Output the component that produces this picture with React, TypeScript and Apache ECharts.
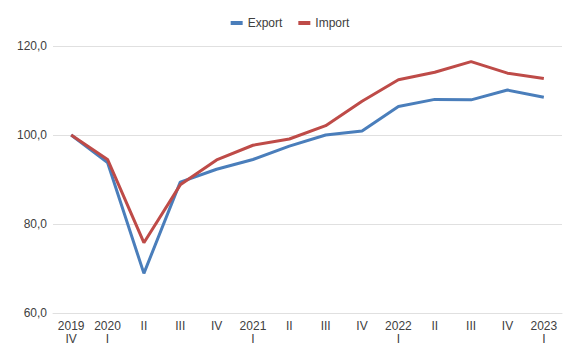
import React, { useEffect, useRef } from "react";
import * as echarts from "echarts";

const categories = [
  "2019\nIV", "2020\nI", "II", "III", "IV", "2021\nI", "II", "III", "IV",
  "2022\nI", "II", "III", "IV", "2023\nI",
];
const exportValues = [100.0, 93.8, 68.9, 89.4, 92.3, 94.5, 97.5, 100.0, 100.9, 106.4, 108.0, 107.9, 110.1, 108.5];
const importValues = [100.0, 94.5, 75.8, 88.8, 94.4, 97.7, 99.1, 102.1, 107.6, 112.4, 114.1, 116.5, 113.9, 112.7];
const seriesNames = ["Export", "Import"];

export default function App() {
  const ref = useRef<HTMLDivElement>(null);
  useEffect(() => {
    if (!ref.current) return;
    const chart = echarts.init(ref.current, null, { renderer: "svg" });
    const font = "Liberation Sans, Arial, sans-serif";
    chart.setOption({
      animation: false,
      textStyle: { fontFamily: font },
      legend: {
        top: 12,
        left: "center",
        itemWidth: 12,
        itemHeight: 4,
        itemGap: 16,
        icon: "rect",
        textStyle: { fontSize: 12, color: "#404040", fontFamily: font },
        data: seriesNames,
      },
      grid: { left: 53, right: 18, top: 46, bottom: 46, containLabel: false },
      xAxis: {
        type: "category",
        data: categories,
        boundaryGap: true,
        axisLine: { show: true, lineStyle: { color: "#e0e0e0", width: 1 } },
        axisTick: { show: false },
        axisLabel: {
          interval: 0,
          fontSize: 12,
          color: "#404040",
          lineHeight: 13,
          margin: 6,
          fontFamily: font,
        },
      },
      yAxis: {
        type: "value",
        min: 60,
        max: 120,
        interval: 20,
        axisLine: { show: false },
        axisTick: { show: false },
        splitLine: { lineStyle: { color: "#e0e0e0", width: 1 } },
        axisLabel: {
          fontSize: 12,
          color: "#404040",
          margin: 6,
          fontFamily: font,
          formatter: (v: number) => v.toFixed(1).replace(".", ","),
        },
      },
      series: [
        {
          name: seriesNames[0],
          type: "line",
          data: exportValues,
          symbol: "none",
          lineStyle: { width: 3, color: "#4a7ebb" },
          itemStyle: { color: "#4a7ebb" },
        },
        {
          name: seriesNames[1],
          type: "line",
          data: importValues,
          symbol: "none",
          lineStyle: { width: 3, color: "#be4b48" },
          itemStyle: { color: "#be4b48" },
        },
      ],
    });
    return () => chart.dispose();
  }, []);
  return <div ref={ref} style={{ width: 580, height: 359, margin: -8 }} />;
}
